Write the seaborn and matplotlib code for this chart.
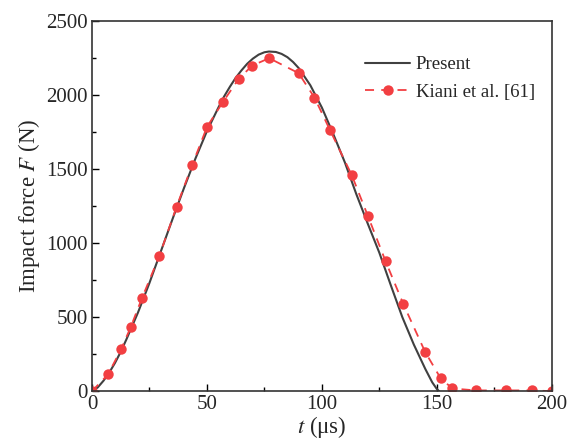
import seaborn as sns
import matplotlib.pyplot as plt

# Present (solid curve)
t_present = [0, 2.5, 5, 7.5, 10, 12.5, 15, 17.5, 20, 25, 30, 35, 40, 45, 50, 55, 57.5,
             60, 62.5, 65, 67.5, 70, 72.5, 75, 77, 80, 82.5, 85, 87.5, 90, 95, 100, 105,
             110, 115, 120, 125, 130, 135, 140, 145, 148, 150, 151]
F_present = [0, 25, 70, 125, 190, 265, 350, 440, 530, 730, 945, 1160, 1370, 1570, 1755,
             1915, 1990, 2055, 2115, 2165, 2210, 2245, 2272, 2288, 2293, 2290, 2277, 2255,
             2222, 2180, 2065, 1915, 1735, 1545, 1330, 1130, 935, 715, 500, 315, 150, 60,
             15, 0]

# Kiani et al. [61] (dashed with dots)
t_kiani = [0, 7, 12.7, 16.8, 21.7, 29.3, 36.8, 43.6, 50.1, 57.1, 63.8, 69.7, 77.1, 89.9,
           96.8, 103.5, 113, 120, 127.7, 135.5, 144.9, 151.7, 156.8, 167, 179.9, 191.4, 200]
F_kiani = [0, 113, 284, 430, 626, 912, 1245, 1527, 1786, 1955, 2108, 2198, 2248, 2147,
           1982, 1764, 1459, 1184, 878, 586, 266, 86, 18, 5, 5, 5, 0]

sns.set_style("ticks")
plt.rcParams['font.family'] = ['Liberation Serif', 'DejaVu Serif']
plt.rcParams['mathtext.fontset'] = 'stix'

fig = plt.figure(figsize=(5.82, 4.44), dpi=100)
ax = fig.add_axes([0.158, 0.119, 0.79, 0.834])

sns.lineplot(x=t_present, y=F_present, ax=ax, color='#404040', linewidth=1.5,
             label='Present')
sns.lineplot(x=t_kiani, y=F_kiani, ax=ax, color='#f23f42', linewidth=1.3,
             linestyle=(0, (5, 4)), marker='o', markersize=7.5, markeredgewidth=0,
             label='Kiani et al. [61]')

ax.set_xlim(0, 200)
ax.set_ylim(0, 2500)
ax.set_xticks([0, 50, 100, 150, 200])
ax.set_xticks([25, 75, 125, 175], minor=True)
ax.set_yticks([0, 500, 1000, 1500, 2000, 2500])
ax.set_yticks([250, 750, 1250, 1750, 2250], minor=True)
ax.tick_params(which='both', direction='in', top=False, right=False, labelsize=15,
               color='black', pad=3)
ax.tick_params(which='major', length=5, width=1)
ax.tick_params(which='minor', length=3, width=1)
for s in ax.spines.values():
    s.set_color('#333333')
    s.set_linewidth(1.2)

ax.set_xlabel('$t$ (μs)', fontsize=16.5, labelpad=0)
ax.set_ylabel('Impact force $F$ (N)', fontsize=16.5, labelpad=3)

ax.legend(loc='upper right', bbox_to_anchor=(1.0, 0.95), frameon=False, fontsize=13.5,
          handlelength=2.4, handletextpad=0.3, labelspacing=0.55)

fig.savefig('out.png', dpi=100)
